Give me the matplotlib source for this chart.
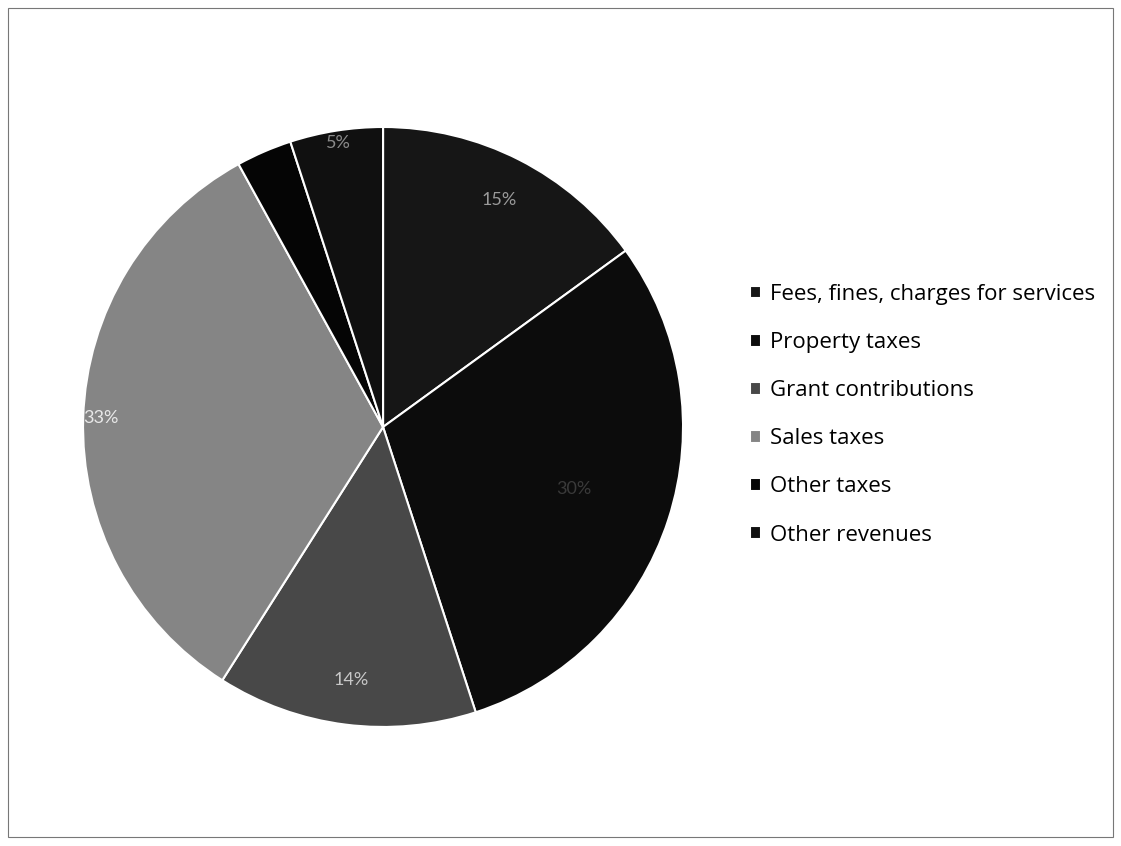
import numpy as np
import matplotlib.pyplot as plt
from matplotlib.patches import Rectangle

# данные
categories = ["Fees, fines, charges for services", "Property taxes", "Grant contributions",
              "Sales taxes", "Other taxes", "Other revenues"]
shares = [15, 30, 14, 33, 3, 5]
colors = ["#161616", "#0c0c0c", "#484848", "#858585", "#050505", "#101010"]
label_colors = ["#9a9a9a", "#3a3a3a", "#c8c8c8", "#e8e8e8", "#050505", "#8a8a8a"]
label_r = [0.85, 0.67, 0.85, 0.94, 0.9, 0.96]

plt.rcParams['font.family'] = ['Lato', 'DejaVu Sans']
fig = plt.figure(figsize=(11.21, 8.46), dpi=100)
fig.patches.append(Rectangle((0.007, 0.011), 0.986, 0.979, transform=fig.transFigure,
                             fill=False, edgecolor="#777777", linewidth=0.8))

ax = fig.add_axes([0.0741, 0.1407, 0.5352, 0.7092])
wedges, _ = ax.pie(shares, colors=colors, startangle=90, counterclock=False,
                   wedgeprops=dict(edgecolor="white", linewidth=1.5))
ax.set_xlim(-1, 1)
ax.set_ylim(-1, 1)
ax.set_aspect("equal")

for w, s, r, c in zip(wedges, shares, label_r, label_colors):
    ang = np.deg2rad((w.theta1 + w.theta2) / 2)
    ax.text(r * np.cos(ang), r * np.sin(ang), "{}%".format(s), ha="center", va="center",
            fontsize=13, color=c)

leg = fig.legend(wedges, categories, loc="upper left", bbox_to_anchor=(0.651, 0.688),
                 frameon=False, labelspacing=1.22, handlelength=0.5,
                 handleheight=0.5, handletextpad=0.4,
                 prop=dict(family=['Open Sans', 'DejaVu Sans'], size=16))

fig.savefig("out.png", dpi=100)
